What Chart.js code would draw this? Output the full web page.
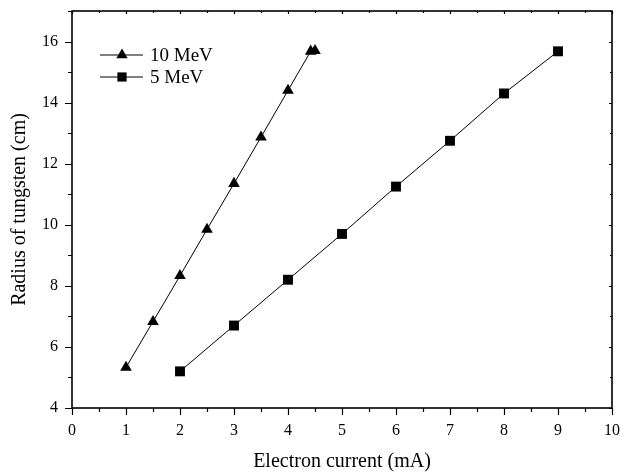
<!DOCTYPE html>
<html>
<head>
<meta charset="utf-8">
<script src="https://cdn.jsdelivr.net/npm/chart.js@4/dist/chart.umd.min.js"></script>
<style>
  html, body { margin: 0; padding: 0; background: #fff; }
  #wrap { width: 620px; height: 474px; }
</style>
</head>
<body>
<div id="wrap"><canvas id="radiusChart" width="620" height="474"></canvas></div>
<script>
// Values
const current10MeV = [1, 1.5, 2, 2.5, 3, 3.5, 4, 4.42, 4.5];
const radius10MeV = [5.33, 6.83, 8.33, 9.85, 11.35, 12.87, 14.4, 15.68, 15.7];
const current5MeV = [2, 3, 4, 5, 6, 7, 8, 9];
const radius5MeV = [5.2, 6.7, 8.2, 9.7, 11.25, 12.75, 14.3, 15.68];
const xTicks = [0, 1, 2, 3, 4, 5, 6, 7, 8, 9, 10];
const yTicks = [4, 6, 8, 10, 12, 14, 16];
const legendLabels = ['10 MeV', '5 MeV'];

const serif = "'Liberation Serif', 'DejaVu Serif', serif";

const toPoints = (xs, ys) => xs.map((x, i) => ({ x: x, y: ys[i] }));

// Draws the frame, major/minor ticks on all four sides and the line-marker-line legend
const framePlugin = {
  id: 'frame',
  afterDraw(chart) {
    const ctx = chart.ctx;
    const xs = chart.scales.x;
    const ys = chart.scales.y;
    const a = chart.chartArea;
    ctx.save();
    ctx.strokeStyle = '#000';
    ctx.lineWidth = 1.6;
    ctx.strokeRect(a.left, a.top, a.right - a.left, a.bottom - a.top);
    ctx.lineWidth = 1.2;
    ctx.beginPath();
    for (let v = 0; v <= 10.001; v += 0.5) {
      const px = Math.round(xs.getPixelForValue(v)) + 0.5;
      const major = Number.isInteger(v);
      ctx.moveTo(px, a.bottom); ctx.lineTo(px, a.bottom + (major ? 7 : 4));
      ctx.moveTo(px, a.top); ctx.lineTo(px, a.top + (major ? 3 : 2));
    }
    for (let v = 4; v <= 17.001; v += 1) {
      const py = Math.round(ys.getPixelForValue(v)) + 0.5;
      const major = v % 2 === 0;
      ctx.moveTo(a.left, py); ctx.lineTo(a.left - (major ? 7 : 4), py);
      ctx.moveTo(a.right, py); ctx.lineTo(a.right - (major ? 3 : 2), py);
    }
    ctx.stroke();

    // legend
    const styles = ['triangle', 'rect'];
    const radii = [6.5, 6.5];
    legendLabels.forEach((label, i) => {
      const y = 55 + i * 22;
      const x0 = 100;
      ctx.lineWidth = 1;
      ctx.beginPath();
      ctx.moveTo(x0, y); ctx.lineTo(x0 + 43, y);
      ctx.stroke();
      ctx.fillStyle = '#000';
      Chart.helpers.drawPoint(ctx, { pointStyle: styles[i], radius: radii[i], borderWidth: 0 }, x0 + 22, y);
      ctx.font = '19px ' + serif;
      ctx.textBaseline = 'middle';
      ctx.fillText(label, x0 + 50, y + 1);
    });
    ctx.restore();
  }
};

new Chart(document.getElementById('radiusChart').getContext('2d'), {
  type: 'scatter',
  data: {
    datasets: [
      {
        label: legendLabels[0],
        data: toPoints(current10MeV, radius10MeV),
        showLine: true,
        borderColor: '#000',
        borderWidth: 1,
        backgroundColor: '#000',
        pointStyle: 'triangle',
        pointRadius: 6.7,
        pointBorderWidth: 0,
      },
      {
        label: legendLabels[1],
        data: toPoints(current5MeV, radius5MeV),
        showLine: true,
        borderColor: '#000',
        borderWidth: 1,
        backgroundColor: '#000',
        pointStyle: 'rect',
        pointRadius: 7,
        pointBorderWidth: 0,
      },
    ],
  },
  options: {
    responsive: false,
    animation: false,
    layout: { padding: { top: 11, right: 8, left: 0, bottom: 0 } },
    plugins: {
      legend: { display: false },
      tooltip: { enabled: false },
    },
    scales: {
      x: {
        type: 'linear',
        min: 0,
        max: 10,
        afterBuildTicks: (s) => { s.ticks = xTicks.map((v) => ({ value: v })); },
        afterFit: (s) => { s.height = 66; s.paddingLeft = 0; s.paddingRight = 0; },
        grid: { display: false, drawTicks: false },
        border: { display: false },
        ticks: { color: '#000', font: { family: serif, size: 16 }, padding: 13, maxRotation: 0 },
        title: { display: true, text: 'Electron current (mA)', color: '#000', font: { family: serif, size: 20 }, padding: 0 },
      },
      y: {
        type: 'linear',
        min: 4,
        max: 17,
        afterBuildTicks: (s) => { s.ticks = yTicks.map((v) => ({ value: v })); },
        afterFit: (s) => { s.width = 72; s.paddingTop = 0; s.paddingBottom = 0; },
        grid: { display: false, drawTicks: false },
        border: { display: false },
        ticks: { color: '#000', font: { family: serif, size: 16 }, padding: 14 },
        title: { display: true, text: 'Radius of tungsten (cm)', color: '#000', font: { family: serif, size: 20 }, padding: { top: 8, bottom: 8 } },
      },
    },
  },
  plugins: [framePlugin],
});
</script>
</body>
</html>
